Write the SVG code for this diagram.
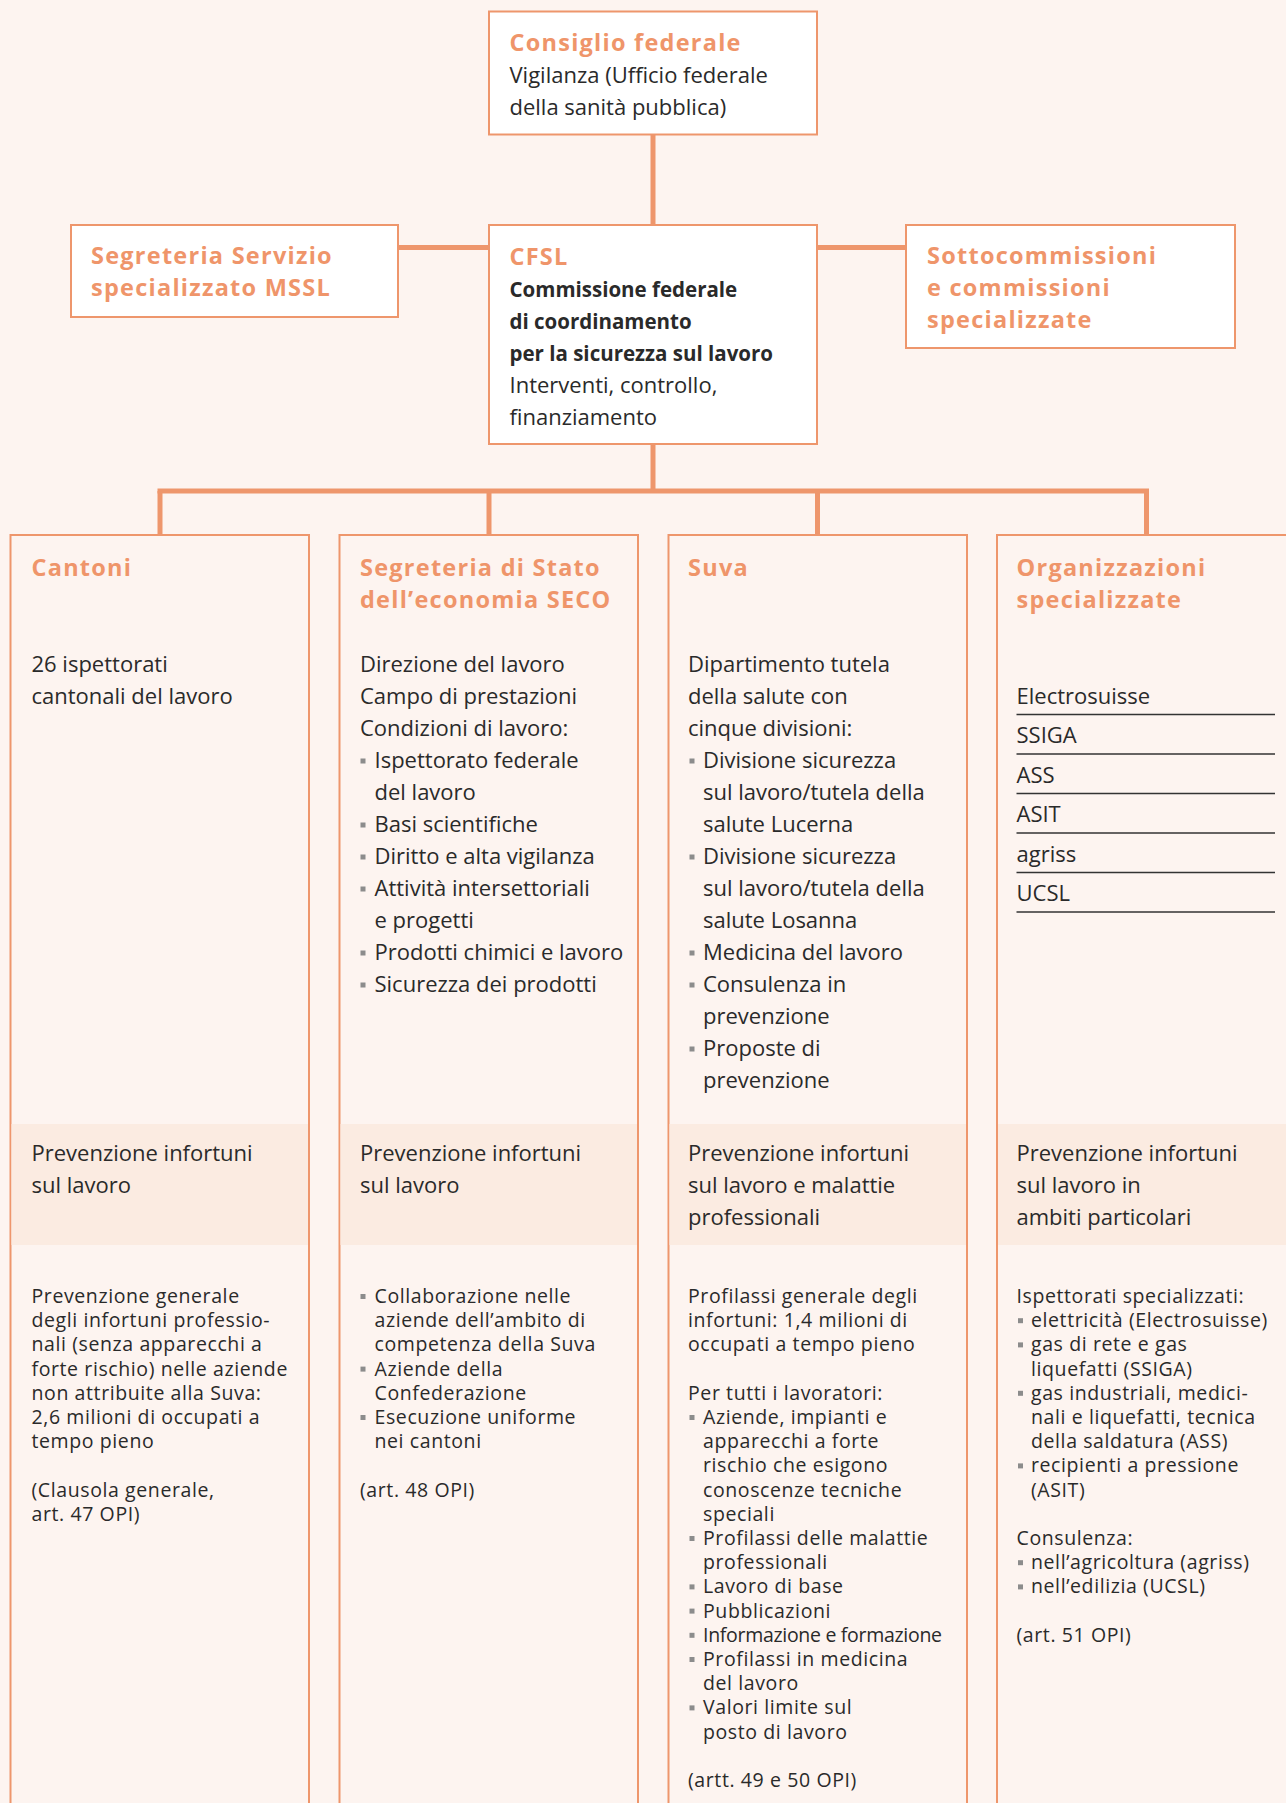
<svg xmlns="http://www.w3.org/2000/svg" width="1286" height="1803" viewBox="0 0 1286 1803">
<defs>
<style>
.bg{fill:#fdf4f0}
.box{fill:#ffffff;stroke:#ee966c;stroke-width:2}
.col{fill:#fdf4f0;stroke:#ee966c;stroke-width:2}
.band{fill:#fbebe1}
.con{stroke:#ee966c;stroke-width:5;fill:none}
.t{font-family:"Open Sans","Noto Sans",sans-serif;font-weight:700;font-size:23.5px;letter-spacing:1.25px;fill:#ef956a}
.b{font-family:"Open Sans","Noto Sans",sans-serif;font-size:22px;fill:#2a2a2a}
.bb{font-family:"Open Sans","Noto Sans",sans-serif;font-weight:700;font-size:20.5px;fill:#2a2a2a}
.s{font-family:"Open Sans","Noto Sans",sans-serif;font-size:19.5px;letter-spacing:0.6px;fill:#2a2a2a}
.bu{fill:#8c8c8c}
.rule{stroke:#333333;stroke-width:1.3}
</style>
<rect id="bul" width="5" height="5" class="bu"/>
</defs>
<rect class="bg" x="0" y="0" width="1286" height="1803"/>

<g id="connectors">
<line class="con" x1="653" y1="134" x2="653" y2="225"/>
<line class="con" x1="398" y1="247.5" x2="489" y2="247.5"/>
<line class="con" x1="817" y1="247.5" x2="906" y2="247.5"/>
<line class="con" x1="653" y1="444" x2="653" y2="491"/>
<line class="con" x1="157.5" y1="491" x2="1149" y2="491"/>
<line class="con" x1="160" y1="491" x2="160" y2="535"/>
<line class="con" x1="489" y1="491" x2="489" y2="535"/>
<line class="con" x1="817.5" y1="491" x2="817.5" y2="535"/>
<line class="con" x1="1146.5" y1="491" x2="1146.5" y2="535"/>
</g>

<g id="consiglio">
<rect class="box" x="489" y="11.5" width="328" height="123"/>
<text class="t" x="509.5" y="51">Consiglio federale</text>
<text class="b" x="509.5" y="83">Vigilanza (Ufficio federale</text>
<text class="b" x="509.5" y="115">della sanità pubblica)</text>
</g>

<g id="segreteria-mssl">
<rect class="box" x="71" y="225" width="327" height="92"/>
<text class="t" x="91" y="264">Segreteria Servizio</text>
<text class="t" x="91" y="296">specializzato MSSL</text>
</g>

<g id="cfsl">
<rect class="box" x="489" y="225" width="328" height="219"/>
<text class="t" x="509.5" y="265">CFSL</text>
<text class="bb" x="509.5" y="297">Commissione federale</text>
<text class="bb" x="509.5" y="329">di coordinamento</text>
<text class="bb" x="509.5" y="361">per la sicurezza sul lavoro</text>
<text class="b" x="509.5" y="393">Interventi, controllo,</text>
<text class="b" x="509.5" y="425">finanziamento</text>
</g>

<g id="sottocommissioni">
<rect class="box" x="906" y="225" width="329" height="123"/>
<text class="t" x="927" y="264">Sottocommissioni</text>
<text class="t" x="927" y="296">e commissioni</text>
<text class="t" x="927" y="328">specializzate</text>
</g>

<g id="cantoni">
<rect class="col" x="10.5" y="535" width="298.5" height="1290"/>
<rect class="band" x="11.5" y="1124" width="296.5" height="121"/>
<text class="t" x="31.5" y="576">Cantoni</text>
<text class="b" x="31.5" y="672">26 ispettorati</text>
<text class="b" x="31.5" y="704">cantonali del lavoro</text>
<text class="b" x="31.5" y="1161">Prevenzione infortuni</text>
<text class="b" x="31.5" y="1193">sul lavoro</text>
<text class="s" x="31.5" y="1303">Prevenzione generale</text>
<text class="s" x="31.5" y="1327.2">degli infortuni professio-</text>
<text class="s" x="31.5" y="1351.4">nali (senza apparecchi a</text>
<text class="s" x="31.5" y="1375.6">forte rischio) nelle aziende</text>
<text class="s" x="31.5" y="1399.8">non attribuite alla Suva:</text>
<text class="s" x="31.5" y="1424">2,6 milioni di occupati a</text>
<text class="s" x="31.5" y="1448.2">tempo pieno</text>
<text class="s" x="31.5" y="1496.6">(Clausola generale,</text>
<text class="s" x="31.5" y="1520.8">art. 47 OPI)</text>
</g>

<g id="seco">
<rect class="col" x="339.5" y="535" width="298.5" height="1290"/>
<rect class="band" x="340.5" y="1124" width="296.5" height="121"/>
<text class="t" x="360" y="576">Segreteria di Stato</text>
<text class="t" x="360" y="608">dell’economia SECO</text>
<text class="b" x="360" y="672">Direzione del lavoro</text>
<text class="b" x="360" y="704">Campo di prestazioni</text>
<text class="b" x="360" y="736">Condizioni di lavoro:</text>
<use href="#bul" x="360.5" y="758.5"/>
<text class="b" x="374.5" y="768">Ispettorato federale</text>
<text class="b" x="374.5" y="800">del lavoro</text>
<use href="#bul" x="360.5" y="822.5"/>
<text class="b" x="374.5" y="832">Basi scientifiche</text>
<use href="#bul" x="360.5" y="854.5"/>
<text class="b" x="374.5" y="864">Diritto e alta vigilanza</text>
<use href="#bul" x="360.5" y="886.5"/>
<text class="b" x="374.5" y="896">Attività intersettoriali</text>
<text class="b" x="374.5" y="928">e progetti</text>
<use href="#bul" x="360.5" y="950.5"/>
<text class="b" x="374.5" y="960">Prodotti chimici e lavoro</text>
<use href="#bul" x="360.5" y="982.5"/>
<text class="b" x="374.5" y="992">Sicurezza dei prodotti</text>
<text class="b" x="360" y="1161">Prevenzione infortuni</text>
<text class="b" x="360" y="1193">sul lavoro</text>
<use href="#bul" x="360.5" y="1294"/>
<text class="s" x="374.5" y="1303">Collaborazione nelle</text>
<text class="s" x="374.5" y="1327.2">aziende dell’ambito di</text>
<text class="s" x="374.5" y="1351.4">competenza della Suva</text>
<use href="#bul" x="360.5" y="1366.6"/>
<text class="s" x="374.5" y="1375.6">Aziende della</text>
<text class="s" x="374.5" y="1399.8">Confederazione</text>
<use href="#bul" x="360.5" y="1415"/>
<text class="s" x="374.5" y="1424">Esecuzione uniforme</text>
<text class="s" x="374.5" y="1448.2">nei cantoni</text>
<text class="s" x="360" y="1496.6">(art. 48 OPI)</text>
</g>

<g id="suva">
<rect class="col" x="668.5" y="535" width="298.5" height="1290"/>
<rect class="band" x="669.5" y="1124" width="296.5" height="121"/>
<text class="t" x="688" y="576">Suva</text>
<text class="b" x="688" y="672">Dipartimento tutela</text>
<text class="b" x="688" y="704">della salute con</text>
<text class="b" x="688" y="736">cinque divisioni:</text>
<use href="#bul" x="689.5" y="758.5"/>
<text class="b" x="703" y="768">Divisione sicurezza</text>
<text class="b" x="703" y="800">sul lavoro/tutela della</text>
<text class="b" x="703" y="832">salute Lucerna</text>
<use href="#bul" x="689.5" y="854.5"/>
<text class="b" x="703" y="864">Divisione sicurezza</text>
<text class="b" x="703" y="896">sul lavoro/tutela della</text>
<text class="b" x="703" y="928">salute Losanna</text>
<use href="#bul" x="689.5" y="950.5"/>
<text class="b" x="703" y="960">Medicina del lavoro</text>
<use href="#bul" x="689.5" y="982.5"/>
<text class="b" x="703" y="992">Consulenza in</text>
<text class="b" x="703" y="1024">prevenzione</text>
<use href="#bul" x="689.5" y="1046.5"/>
<text class="b" x="703" y="1056">Proposte di</text>
<text class="b" x="703" y="1088">prevenzione</text>
<text class="b" x="688" y="1161">Prevenzione infortuni</text>
<text class="b" x="688" y="1193">sul lavoro e malattie</text>
<text class="b" x="688" y="1225">professionali</text>
<text class="s" x="688" y="1303">Profilassi generale degli</text>
<text class="s" x="688" y="1327.2">infortuni: 1,4 milioni di</text>
<text class="s" x="688" y="1351.4">occupati a tempo pieno</text>
<text class="s" x="688" y="1399.8">Per tutti i lavoratori:</text>
<use href="#bul" x="689.5" y="1415"/>
<text class="s" x="703" y="1424">Aziende, impianti e</text>
<text class="s" x="703" y="1448.2">apparecchi a forte</text>
<text class="s" x="703" y="1472.4">rischio che esigono</text>
<text class="s" x="703" y="1496.6">conoscenze tecniche</text>
<text class="s" x="703" y="1520.8">speciali</text>
<use href="#bul" x="689.5" y="1536"/>
<text class="s" x="703" y="1545">Profilassi delle malattie</text>
<text class="s" x="703" y="1569.2">professionali</text>
<use href="#bul" x="689.5" y="1584.4"/>
<text class="s" x="703" y="1593.4">Lavoro di base</text>
<use href="#bul" x="689.5" y="1608.6"/>
<text class="s" x="703" y="1617.6">Pubblicazioni</text>
<use href="#bul" x="689.5" y="1632.8"/>
<text class="s" x="703" y="1641.8" style="letter-spacing:-0.3px">Informazione e formazione</text>
<use href="#bul" x="689.5" y="1657"/>
<text class="s" x="703" y="1666">Profilassi in medicina</text>
<text class="s" x="703" y="1690.2">del lavoro</text>
<use href="#bul" x="689.5" y="1705.4"/>
<text class="s" x="703" y="1714.4">Valori limite sul</text>
<text class="s" x="703" y="1738.6">posto di lavoro</text>
<text class="s" x="688" y="1787">(artt. 49 e 50 OPI)</text>
</g>

<g id="organizzazioni">
<rect class="col" x="997" y="535" width="298.5" height="1290"/>
<rect class="band" x="998" y="1124" width="296.5" height="121"/>
<text class="t" x="1016.5" y="576">Organizzazioni</text>
<text class="t" x="1016.5" y="608">specializzate</text>
<text class="b" x="1016.5" y="703.5">Electrosuisse</text>
<line class="rule" x1="1016.5" y1="714.5" x2="1275" y2="714.5"/>
<text class="b" x="1016.5" y="743">SSIGA</text>
<line class="rule" x1="1016.5" y1="754" x2="1275" y2="754"/>
<text class="b" x="1016.5" y="782.5">ASS</text>
<line class="rule" x1="1016.5" y1="793.5" x2="1275" y2="793.5"/>
<text class="b" x="1016.5" y="822">ASIT</text>
<line class="rule" x1="1016.5" y1="833" x2="1275" y2="833"/>
<text class="b" x="1016.5" y="861.5">agriss</text>
<line class="rule" x1="1016.5" y1="872.5" x2="1275" y2="872.5"/>
<text class="b" x="1016.5" y="901">UCSL</text>
<line class="rule" x1="1016.5" y1="912" x2="1275" y2="912"/>
<text class="b" x="1016.5" y="1161">Prevenzione infortuni</text>
<text class="b" x="1016.5" y="1193">sul lavoro in</text>
<text class="b" x="1016.5" y="1225">ambiti particolari</text>
<text class="s" x="1016.5" y="1303">Ispettorati specializzati:</text>
<use href="#bul" x="1018" y="1318.2"/>
<text class="s" x="1031" y="1327.2">elettricità (Electrosuisse)</text>
<use href="#bul" x="1018" y="1342.4"/>
<text class="s" x="1031" y="1351.4">gas di rete e gas</text>
<text class="s" x="1031" y="1375.6">liquefatti (SSIGA)</text>
<use href="#bul" x="1018" y="1390.8"/>
<text class="s" x="1031" y="1399.8">gas industriali, medici-</text>
<text class="s" x="1031" y="1424">nali e liquefatti, tecnica</text>
<text class="s" x="1031" y="1448.2">della saldatura (ASS)</text>
<use href="#bul" x="1018" y="1463.4"/>
<text class="s" x="1031" y="1472.4">recipienti a pressione</text>
<text class="s" x="1031" y="1496.6">(ASIT)</text>
<text class="s" x="1016.5" y="1545">Consulenza:</text>
<use href="#bul" x="1018" y="1560.2"/>
<text class="s" x="1031" y="1569.2">nell’agricoltura (agriss)</text>
<use href="#bul" x="1018" y="1584.4"/>
<text class="s" x="1031" y="1593.4">nell’edilizia (UCSL)</text>
<text class="s" x="1016.5" y="1641.8">(art. 51 OPI)</text>
</g>
</svg>
